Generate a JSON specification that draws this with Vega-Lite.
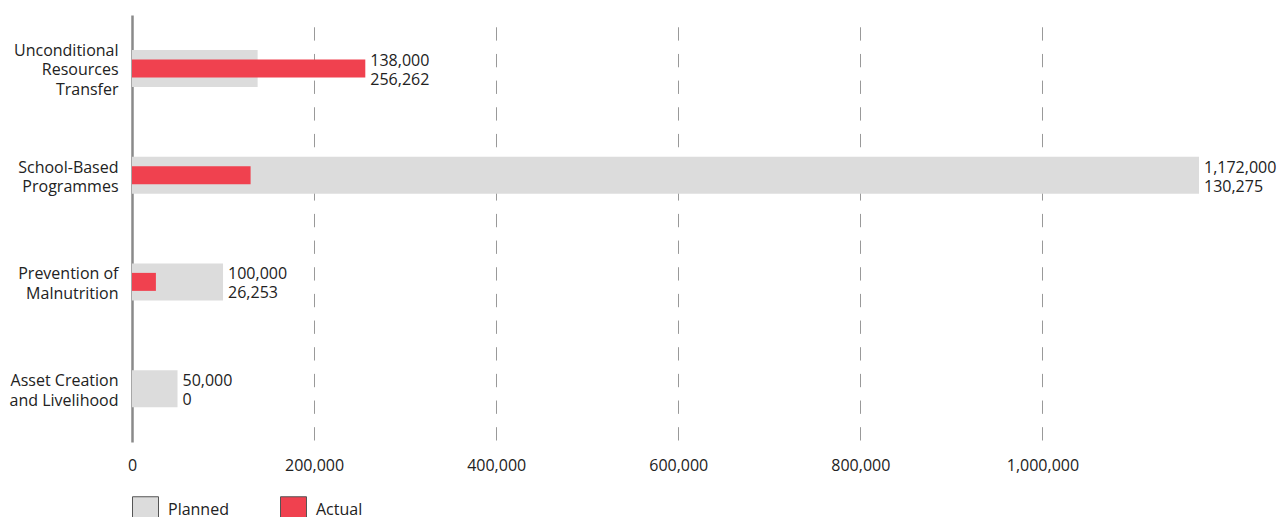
{
  "$schema": "https://vega.github.io/schema/vega-lite/v6.json",
  "width": 1067,
  "height": 427,
  "autosize": {"type": "none"},
  "padding": {"left": 132, "top": 15, "right": 80, "bottom": 75},
  "background": "white",
  "config": {
    "view": {"stroke": null},
    "font": "Open Sans",
    "text": {"font": "Open Sans"}
  },
  "data": {
    "values": [
      {"category": "Unconditional Resources Transfer", "Planned": 138000, "Actual": 256262},
      {"category": "School-Based Programmes", "Planned": 1172000, "Actual": 130275},
      {"category": "Prevention of Malnutrition", "Planned": 100000, "Actual": 26253},
      {"category": "Asset Creation and Livelihood", "Planned": 50000, "Actual": 0}
    ]
  },
  "transform": [
    {"fold": ["Planned", "Actual"], "as": ["series", "value"]},
    {"joinaggregate": [{"op": "max", "field": "value", "as": "maxv"}], "groupby": ["category"]}
  ],
  "encoding": {
    "y": {
      "field": "category",
      "type": "nominal",
      "sort": null,
      "title": null,
      "scale": {"padding": 0},
      "axis": {
        "ticks": false,
        "domainColor": "#8a8a8a",
        "domainWidth": 2.5,
        "labelFont": "Open Sans",
        "labelFontSize": 16,
        "labelColor": "#222",
        "labelPadding": 14,
        "labelLineHeight": 19.5,
        "labelLimit": 300,
        "labelBaseline": "middle",
        "labelOffset": {
          "condition": {"test": "datum.value == 'Unconditional Resources Transfer'", "value": -17.5},
          "value": -7.5
        },
        "labelExpr": "datum.value == 'Unconditional Resources Transfer' ? ['Unconditional','Resources','Transfer'] : datum.value == 'School-Based Programmes' ? ['School-Based','Programmes'] : datum.value == 'Prevention of Malnutrition' ? ['Prevention of','Malnutrition'] : ['Asset Creation','and Livelihood']"
      }
    }
  },
  "layer": [
    {
      "transform": [{"filter": "datum.series == 'Planned'"}],
      "mark": {"type": "bar", "size": 37},
      "encoding": {
        "x": {
          "field": "value",
          "type": "quantitative",
          "title": null,
          "scale": {"domain": [0, 1172000], "nice": false},
          "axis": {
            "values": [0, 200000, 400000, 600000, 800000, 1000000],
            "format": ",d",
            "ticks": false,
            "domain": false,
            "grid": true,
            "gridColor": "#999",
            "gridWidth": 1,
            "gridDash": [13.33, 13.33],
            "gridDashOffset": 24.67,
            "labelFlush": false,
            "labelFont": "Open Sans",
            "labelFontSize": 16,
            "labelColor": "#222",
            "labelPadding": 15
          }
        },
        "color": {
          "datum": "Planned",
          "type": "nominal",
          "scale": {"domain": ["Planned", "Actual"], "range": ["#dcdcdc", "#f0414f"]},
          "legend": {
            "title": null,
            "orient": "none",
            "legendX": 0,
            "legendY": 481,
            "direction": "horizontal",
            "symbolType": "square",
            "symbolSize": 676,
            "symbolStrokeColor": "#555",
            "symbolStrokeWidth": 1,
            "labelFont": "Open Sans",
            "labelFontSize": 16,
            "labelColor": "#222",
            "labelOffset": 9,
            "columnPadding": 49
          }
        }
      }
    },
    {
      "transform": [{"filter": "datum.series == 'Actual'"}],
      "mark": {"type": "bar", "size": 18},
      "encoding": {
        "x": {"field": "value", "type": "quantitative"},
        "color": {"datum": "Actual", "type": "nominal"}
      }
    },
    {
      "transform": [{"filter": "datum.series == 'Planned'"}],
      "mark": {"type": "text", "align": "left", "baseline": "middle", "dx": 5, "dy": -7.5, "fontSize": 16, "color": "#222"},
      "encoding": {
        "x": {"field": "maxv", "type": "quantitative"},
        "text": {"field": "value", "type": "quantitative", "format": ",d"}
      }
    },
    {
      "transform": [{"filter": "datum.series == 'Actual'"}],
      "mark": {"type": "text", "align": "left", "baseline": "middle", "dx": 5, "dy": 11.5, "fontSize": 16, "color": "#222"},
      "encoding": {
        "x": {"field": "maxv", "type": "quantitative"},
        "text": {"field": "value", "type": "quantitative", "format": ",d"}
      }
    }
  ]
}
